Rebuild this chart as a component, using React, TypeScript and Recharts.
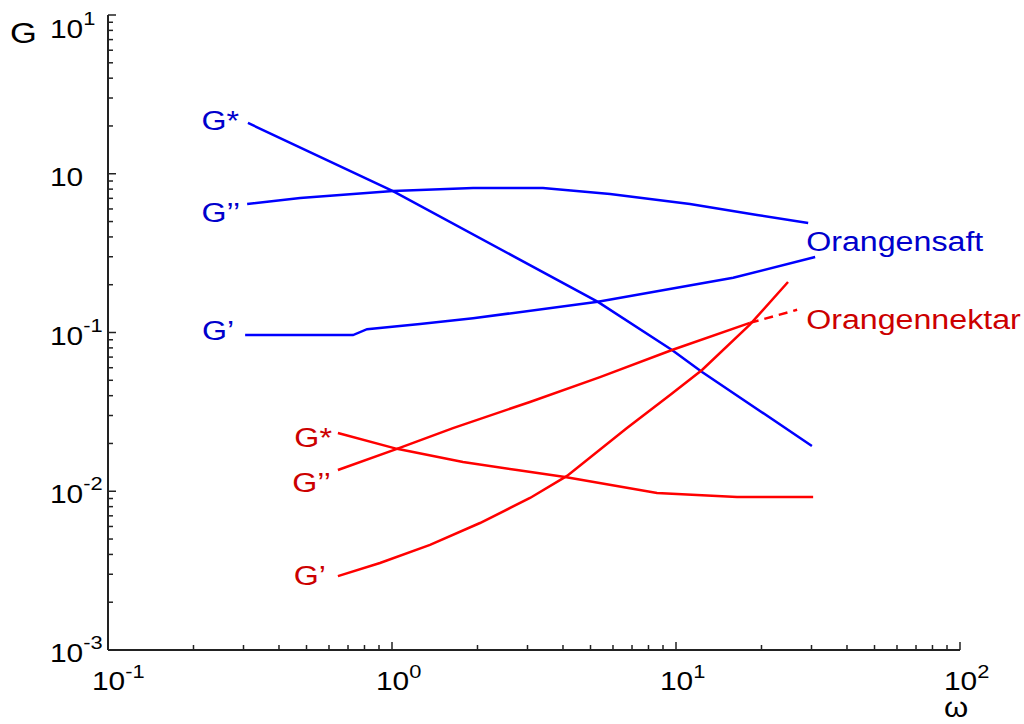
import React from 'react';
import { LineChart, Line, XAxis, YAxis, ReferenceDot } from 'recharts';

// frequency ω and modulus G (log-log)
const blueStarW = [0.311, 1.008, 5.31, 9.68, 12.35, 30.1];
const blueStarG = [2.09, 0.778, 0.156, 0.0776, 0.0564, 0.0193];

const blueLossW = [0.309, 0.475, 1.008, 1.93, 3.4, 5.86, 11.2, 19.3, 29.2];
const blueLossG = [0.645, 0.703, 0.778, 0.813, 0.813, 0.746, 0.645, 0.55, 0.49];

const blueStoreW = [0.304, 0.729, 0.817, 1.255, 1.93, 5.31, 15.9, 30.9];
const blueStoreG = [0.0964, 0.0964, 0.105, 0.113, 0.123, 0.156, 0.221, 0.299];

const redStarW = [0.645, 1.041, 1.778, 2.755, 4.067, 8.574, 16.4, 30.4];
const redStarG = [0.0233, 0.0185, 0.0153, 0.0136, 0.0123, 0.00975, 0.0092, 0.0092];

const redLossW = [0.645, 1.041, 1.64, 3.06, 5.4, 9.68, 18.2];
const redLossG = [0.0136, 0.0185, 0.025, 0.0365, 0.0524, 0.0776, 0.115];
const redLossTailW = [18.2, 26.7];
const redLossTailG = [0.115, 0.139];

const redStoreW = [0.645, 0.907, 1.361, 2.041, 3.062, 4.133, 6.72, 9.53, 12.35, 18.2, 24.8];
const redStoreG = [0.00292, 0.00353, 0.00459, 0.00631, 0.00907, 0.0125, 0.025, 0.0404, 0.0581, 0.112, 0.208];

const xMajor = [0.1, 1, 10, 100];
const xExp = ['-1', '0', '1', '2'];
const yMajor = [0.001, 0.01, 0.1, 1, 10];
const yExp = ['-3', '-2', '-1', '', '1'];

const zip = (w: number[], g: number[]) => w.map((v, i) => ({ w: v, g: g[i] }));

const minors = (majors: number[]) => {
  const out: number[] = [];
  majors.slice(0, -1).forEach((m) => {
    for (let k = 2; k <= 9; k++) out.push(m * k);
  });
  return out;
};

const FONT = '"Liberation Sans", Arial, sans-serif';
const SX = 1.15;
const BLUE = '#0000ff';
const BLUE_TXT = '#0000cc';
const RED = '#ff0000';
const RED_TXT = '#cc0000';
const AXIS = '#222';

const findMajor = (list: number[], v: number) =>
  list.findIndex((m) => Math.abs(m - v) / m < 1e-6);

function YTick(props: any) {
  const { x, y, payload } = props;
  const i = findMajor(yMajor, payload.value);
  if (i < 0) {
    return <line x1={x} x2={x + 5} y1={y} y2={y} stroke={AXIS} strokeWidth={1.5} />;
  }
  // top label sits a bit lower than its tick in the original
  const shift = i === yMajor.length - 1 ? 14 : 3;
  return (
    <g>
      <line x1={x} x2={x + 8} y1={y} y2={y} stroke={AXIS} strokeWidth={1.5} />
      <text transform={`translate(${x - 58} ${y + 9 + shift}) scale(${SX} 1)`} fontSize={26} fontFamily={FONT} fill="#000">
        10
        {yExp[i] && <tspan dy={-13} fontSize={19}>{yExp[i]}</tspan>}
      </text>
    </g>
  );
}

function XTick(props: any) {
  const { x, y, payload } = props;
  const i = findMajor(xMajor, payload.value);
  if (i < 0) {
    return <line x1={x} x2={x} y1={y} y2={y - 5} stroke={AXIS} strokeWidth={1.5} />;
  }
  return (
    <g>
      <line x1={x} x2={x} y1={y} y2={y - 8} stroke={AXIS} strokeWidth={1.5} />
      <text transform={`translate(${x - 16} ${y + 40}) scale(${SX} 1)`} fontSize={26} fontFamily={FONT} fill="#000">
        10
        <tspan dy={-12} fontSize={19}>{xExp[i]}</tspan>
      </text>
    </g>
  );
}

function tag(text: string, color: string, dx: number, dy: number, anchor = 'end', size = 28) {
  return (p: any) => {
    const vb = p.viewBox || {};
    return (
      <text
        transform={`translate(${vb.x + dx} ${vb.y + dy}) scale(${SX} 1)`}
        textAnchor={anchor}
        fontSize={size}
        fontFamily={FONT}
        fill={color}
      >
        {text}
      </text>
    );
  };
}

export default function App() {
  const series = [
    { w: blueStarW, g: blueStarG, c: BLUE },
    { w: blueLossW, g: blueLossG, c: BLUE },
    { w: blueStoreW, g: blueStoreG, c: BLUE },
    { w: redStarW, g: redStarG, c: RED },
    { w: redLossW, g: redLossG, c: RED },
    { w: redStoreW, g: redStoreG, c: RED },
  ];

  return (
    <div style={{ position: 'absolute', left: 0, top: 0, width: 1024, height: 724, background: '#fff' }}>
      <LineChart width={1024} height={724} margin={{ top: 15, right: 64, bottom: 0, left: 0 }}>
        <XAxis
          dataKey="w"
          type="number"
          scale="log"
          domain={[0.1, 100]}
          allowDataOverflow
          ticks={[...xMajor, ...minors(xMajor)]}
          interval={0}
          tickSize={0}
          tickMargin={0}
          tickLine={false}
          tick={<XTick />}
          height={74}
          axisLine={{ stroke: AXIS, strokeWidth: 2 }}
          label={(p: any) => {
            const vb = p.viewBox || {};
            return (
              <text
                transform={`translate(${vb.x + vb.width - 4} ${vb.y + 67}) scale(${SX} 1)`}
                textAnchor="middle"
                fontSize={27}
                fontFamily={FONT}
                fill="#000"
              >
                ω
              </text>
            );
          }}
        />
        <YAxis
          dataKey="g"
          type="number"
          scale="log"
          domain={[0.001, 10]}
          allowDataOverflow
          ticks={[...yMajor, ...minors(yMajor)]}
          interval={0}
          tickSize={0}
          tickMargin={0}
          tickLine={false}
          tick={<YTick />}
          width={108}
          axisLine={{ stroke: AXIS, strokeWidth: 2 }}
          label={(p: any) => {
            const vb = p.viewBox || {};
            return (
              <text
                transform={`translate(${vb.x + 10} ${vb.y + 28}) scale(${SX} 1)`}
                fontSize={30}
                fontFamily={FONT}
                fill="#000"
              >
                G
              </text>
            );
          }}
        />

        {series.map((s, i) => (
          <Line
            key={i}
            data={zip(s.w, s.g)}
            dataKey="g"
            type="linear"
            stroke={s.c}
            strokeWidth={2.5}
            dot={false}
            isAnimationActive={false}
          />
        ))}
        <Line
          data={zip(redLossTailW, redLossTailG)}
          dataKey="g"
          type="linear"
          stroke={RED}
          strokeWidth={2.5}
          strokeDasharray="9 6"
          dot={false}
          isAnimationActive={false}
        />

        <ReferenceDot x={blueStarW[0]} y={blueStarG[0]} r={0} stroke="none" fill="none" ifOverflow="visible" label={tag('G*', BLUE_TXT, -9, 7)} />
        <ReferenceDot x={blueLossW[0]} y={blueLossG[0]} r={0} stroke="none" fill="none" ifOverflow="visible" label={tag('G’’', BLUE_TXT, -7, 18)} />
        <ReferenceDot x={blueStoreW[0]} y={blueStoreG[0]} r={0} stroke="none" fill="none" ifOverflow="visible" label={tag('G’', BLUE_TXT, -11, 5)} />
        <ReferenceDot x={redStarW[0]} y={redStarG[0]} r={0} stroke="none" fill="none" ifOverflow="visible" label={tag('G*', RED_TXT, -6, 14)} />
        <ReferenceDot x={redLossW[0]} y={redLossG[0]} r={0} stroke="none" fill="none" ifOverflow="visible" label={tag('G’’', RED_TXT, -7, 22)} />
        <ReferenceDot x={redStoreW[0]} y={redStoreG[0]} r={0} stroke="none" fill="none" ifOverflow="visible" label={tag('G’', RED_TXT, -12, 9)} />
        <ReferenceDot
          x={blueStoreW[blueStoreW.length - 1]}
          y={blueStoreG[blueStoreG.length - 1]}
          r={0}
          stroke="none"
          fill="none"
          ifOverflow="visible"
          label={tag('Orangensaft', BLUE_TXT, -9, -6, 'start', 28)}
        />
        <ReferenceDot
          x={redLossTailW[1]}
          y={redLossTailG[1]}
          r={0}
          stroke="none"
          fill="none"
          ifOverflow="visible"
          label={tag('Orangennektar', RED_TXT, 9, 19, 'start', 28)}
        />
      </LineChart>
    </div>
  );
}
